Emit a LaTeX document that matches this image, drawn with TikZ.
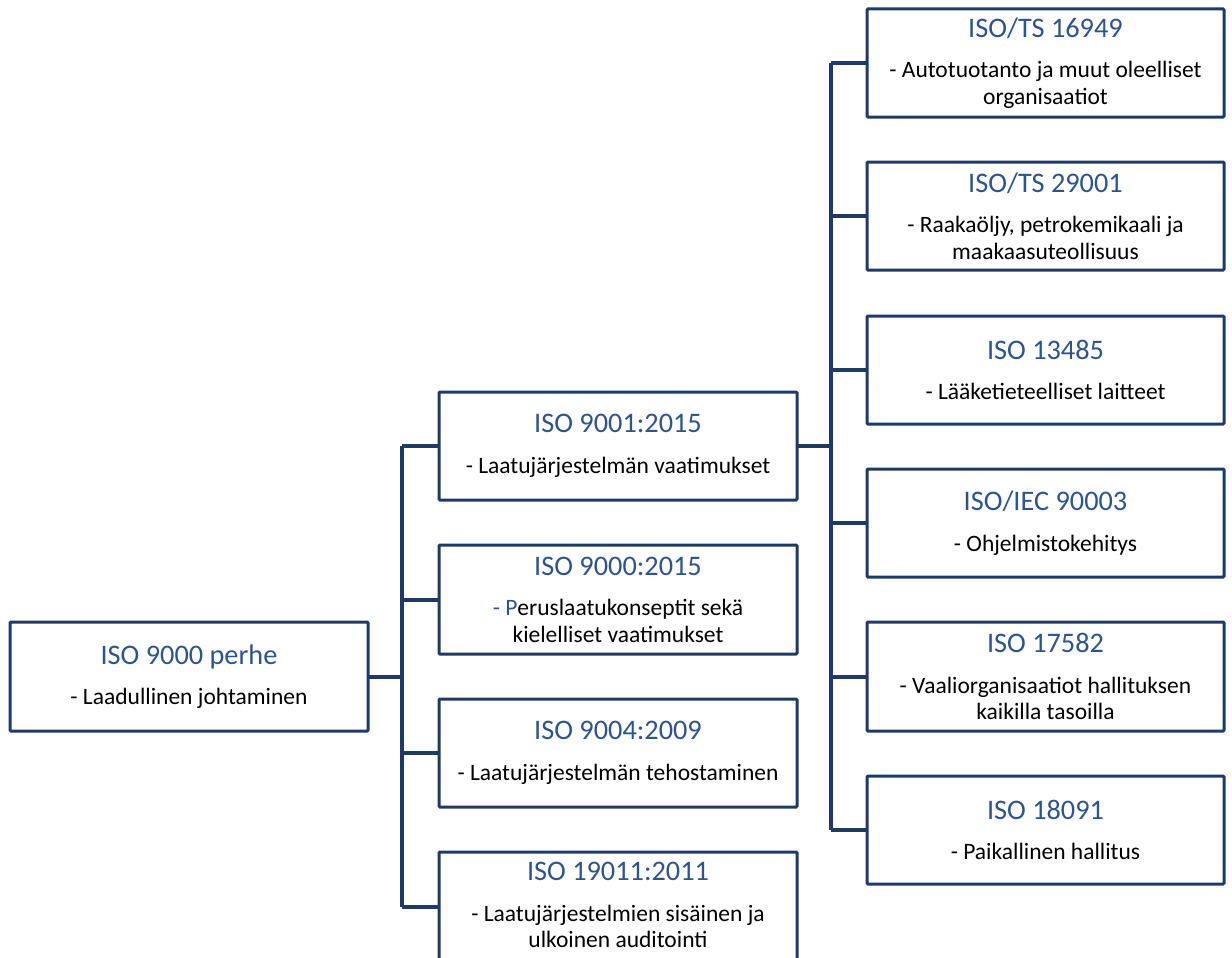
\documentclass[tikz,border=0pt]{standalone}
\usepackage{fontspec}
\setmainfont{Carlito}
\definecolor{lineblue}{RGB}{31,58,104}
\definecolor{titleblue}{RGB}{46,84,144}
\newcommand{\ttl}[1]{{\fontsize{28.3}{30}\selectfont\color{titleblue}#1}\\[14pt]}
\begin{document}
\begin{tikzpicture}[x=1pt,y=-1pt,
  box/.style={draw=lineblue,line width=3pt,fill=white,rounded corners=1pt,inner sep=0pt,outer sep=0pt,
    minimum height=108pt,align=center,font=\fontsize{23.5}{26.5}\selectfont},
  midbox/.style={box,minimum width=358pt},
  rbox/.style={box,minimum width=357pt},
  conn/.style={draw=lineblue,line width=4pt}]
\useasboundingbox (0,0) rectangle (1232,958);
\clip (0,0) rectangle (1232,958);
\coordinate (t1) at (402,0);
\coordinate (t2) at (831,0);
% nodes
\node[box,minimum width=358pt,minimum height=109pt] (root) at (189,676.5) {\ttl{ISO 9000 perhe}- Laadullinen johtaminen};
\node[midbox] (a) at (618,446) {\ttl{ISO 9001:2015}- Laatujärjestelmän vaatimukset};
\node[midbox,minimum height=109pt] (b) at (618,599.5) {\ttl{ISO 9000:2015}{\color{titleblue}- P}eruslaatukonseptit sekä\\kielelliset vaatimukset};
\node[midbox] (c) at (618,753) {\ttl{ISO 9004:2009}- Laatujärjestelmän tehostaminen};
\node[midbox,minimum height=109pt,text depth=0pt] (d) at (618,906.5) {};
\node[align=center,font=\fontsize{23.5}{26.5}\selectfont,inner sep=0pt] (dt) at (618,905) {\ttl{ISO 19011:2011}- Laatujärjestelmien sisäinen ja\\ulkoinen auditointi};
\node[rbox] (r1) at (1045.5,63) {\ttl{ISO/TS 16949}- Autotuotanto ja muut oleelliset\\organisaatiot};
\node[rbox] (r2) at (1045.5,216) {\ttl{ISO/TS 29001}- Raakaöljy, petrokemikaali ja\\maakaasuteollisuus};
\node[rbox] (r3) at (1045.5,370) {\ttl{ISO 13485}- Lääketieteelliset laitteet};
\node[rbox] (r4) at (1045.5,523) {\ttl{ISO/IEC 90003}- Ohjelmistokehitys};
\node[rbox,minimum height=109pt] (r5) at (1045.5,676.5) {\ttl{ISO 17582}- Vaaliorganisaatiot hallituksen\\kaikilla tasoilla};
\node[rbox] (r6) at (1045.5,830) {\ttl{ISO 18091}- Paikallinen hallitus};
% connectors
\draw[conn] (root.east) -- (root.east -| t1);
\draw[conn] (a.west -| t1) -- (d.west -| t1);
\foreach \n in {a,b,c,d} \draw[conn] (\n.west -| t1) -- (\n.west);
\draw[conn] (a.east) -- (a.east -| t2);
\draw[conn] (r1.west -| t2) -- (r6.west -| t2);
\foreach \n in {r1,r2,r3,r4,r5,r6} \draw[conn] (\n.west -| t2) -- (\n.west);
\end{tikzpicture}
\end{document}
